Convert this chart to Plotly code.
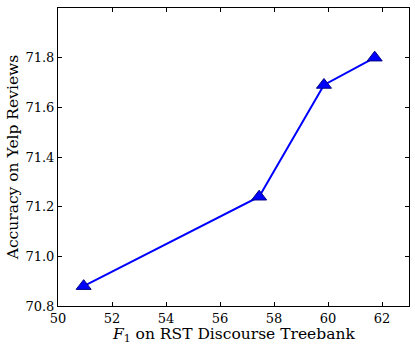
import plotly.graph_objects as go

f1_scores = [50.95, 57.45, 59.85, 61.73]
accuracy = [70.88, 71.24, 71.69, 71.80]
x_ticks = [50, 52, 54, 56, 58, 60, 62]
y_ticks = [70.8, 71.0, 71.2, 71.4, 71.6, 71.8]
x_title = "<i>F</i><sub>1</sub> on RST Discourse Treebank"
y_title = "Accuracy on Yelp Reviews"

font_family = "DejaVu Serif"

fig = go.Figure()
fig.add_trace(go.Scatter(
    x=f1_scores, y=accuracy, mode="lines+markers",
    line=dict(color="#0000ff", width=2),
    marker=dict(symbol="triangle-up", size=13, color="#0000ff",
                line=dict(color="#000080", width=1)),
    showlegend=False,
))

axis_common = dict(
    showgrid=False, zeroline=False, showline=True, linecolor="black", linewidth=1,
    mirror="allticks", ticks="inside", ticklen=4, tickwidth=1, tickcolor="black",
    tickfont=dict(family=font_family, size=13, color="black"),
)
fig.update_xaxes(range=[50, 63], tickvals=x_ticks,
                 ticktext=[str(v) for v in x_ticks],
                 **axis_common)
fig.update_yaxes(range=[70.8, 72.0], tickvals=y_ticks,
                 ticktext=[f"{v:.1f}" for v in y_ticks],
                 title=dict(text=y_title, standoff=3,
                            font=dict(family=font_family, size=15.5, color="black")),
                 **axis_common)
fig.add_annotation(
    text=x_title, xref="paper", yref="paper", x=0.5, y=0,
    xanchor="center", yanchor="top", yshift=-17, showarrow=False,
    font=dict(family=font_family, size=15.5, color="black"),
)
fig.update_layout(
    width=415, height=344,
    margin=dict(l=58, r=6, t=8, b=38),
    plot_bgcolor="white", paper_bgcolor="white",
)
fig.write_html("out.html")
